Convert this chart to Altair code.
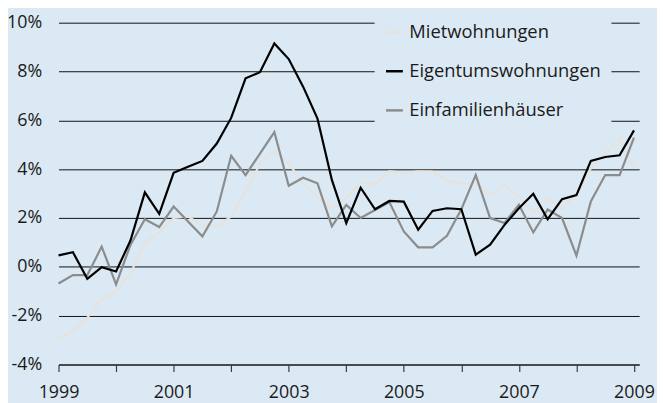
import altair as alt
import pandas as pd

series_names = ["Mietwohnungen", "Eigentumswohnungen", "Einfamilienhäuser"]
series_colors = ["#e6e3df", "#000000", "#8c8c8c"]

start_year = 1999

miet = [-2.96, -2.6, -2.08, -1.33, -0.99, -0.27, 0.98, 1.41, 2.0, 2.06,
        1.72, 1.68, 2.06, 3.08, 4.21, 4.75, 4.24, 3.42, 2.81, 2.4,
        2.81, 3.46, 3.38, 3.92, 3.85, 3.91, 3.9, 3.53, 3.42, 3.42,
        2.94, 3.35, 2.88, 2.22, 2.79, 2.4, 2.99, 4.03, 4.64, 5.25, 4.03]

eigentum = [0.47, 0.6, -0.49, -0.01, -0.19, 1.08, 3.05, 2.17, 3.85, 4.1,
            4.34, 5.05, 6.1, 7.72, 7.97, 9.15, 8.51, 7.38, 6.07, 3.56,
            1.79, 3.24, 2.36, 2.7, 2.67, 1.52, 2.29, 2.4, 2.36, 0.5,
            0.91, 1.72, 2.4, 2.99, 1.95, 2.77, 2.94, 4.34, 4.5, 4.57, 5.59]

efh = [-0.68, -0.34, -0.34, 0.83, -0.72, 0.9, 1.95, 1.63, 2.47, 1.86,
       1.25, 2.27, 4.55, 3.76, 4.64, 5.52, 3.32, 3.65, 3.42, 1.66,
       2.54, 2.0, 2.33, 2.65, 1.45, 0.8, 0.8, 1.27, 2.36, 3.76,
       2.0, 1.8, 2.54, 1.41, 2.35, 2.0, 0.46, 2.68, 3.76, 3.76, 5.29]

y_ticks = [-4, -2, 0, 2, 4, 6, 8, 10]
x_ticks = list(range(1999, 2010))

rows = []
# draw order: light first, then grey, then black on top
for name, vals in [("Mietwohnungen", miet), ("Einfamilienhäuser", efh), ("Eigentumswohnungen", eigentum)]:
    for i, v in enumerate(vals):
        rows.append({"t": start_year + i / 4, "v": v, "s": name})
df = pd.DataFrame(rows)

BG = "#dae9f4"
FONT = "Open Sans"

chart = alt.Chart(df).mark_line(strokeWidth=2.2).encode(
    x=alt.X("t:Q",
            scale=alt.Scale(domain=[1999, 2009.09], nice=False, zero=False),
            axis=alt.Axis(values=x_ticks, title=None, grid=False,
                          labelExpr="datum.value % 2 == 1 ? datum.value : ''",
                          labelFlush=False, labelOverlap=False,
                          domainColor="#3a3a3a", domainWidth=1.5,
                          tickColor="#3a3a3a", tickSize=7, tickWidth=1.2,
                          labelBaseline="alphabetic", labelPadding=26,
                          labelFontSize=18, labelFont=FONT, labelColor="#1a1a1a")),
    y=alt.Y("v:Q",
            scale=alt.Scale(domain=[-4, 10], nice=False, zero=False),
            axis=alt.Axis(values=y_ticks, title=None, grid=True,
                          gridColor="#111111", gridWidth=1,
                          domain=False, ticks=False, tickSize=0,
                          labelExpr="datum.value + '%'",
                          labelPadding=17, labelFontSize=18, labelFont=FONT,
                          labelColor="#1a1a1a")),
    color=alt.Color("s:N",
                    scale=alt.Scale(domain=series_names, range=series_colors),
                    legend=alt.Legend(title=None, orient="none",
                                      legendX=319, legendY=-10.5,
                                      fillColor=BG, padding=10,
                                      symbolType="stroke", symbolSize=289,
                                      symbolStrokeWidth=2.5,
                                      labelFontSize=18.5, labelFont=FONT,
                                      labelColor="#1a1a1a", labelOffset=5,
                                      labelLimit=400,
                                      rowPadding=19.5)),
).properties(
    width=586, height=345,
    autosize=alt.AutoSizeParams(type="none"),
    padding={"left": 51, "top": 13, "right": 18, "bottom": 37},
).configure(
    background=BG,
).configure_view(stroke=None)

chart.save("out.html", embed_options={"renderer": "svg", "actions": False})
